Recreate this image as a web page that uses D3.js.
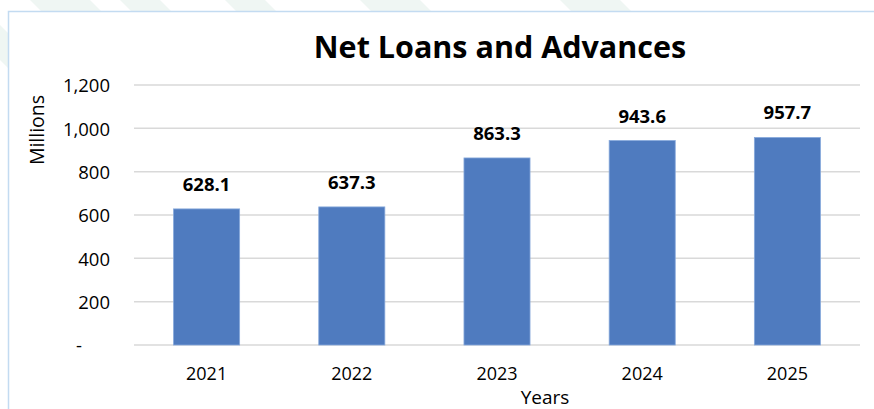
<!DOCTYPE html>
<html>
<head>
<meta charset="utf-8">
<script src="https://cdn.jsdelivr.net/npm/d3@7"></script>
<style>
  html, body { margin: 0; padding: 0; background: #ffffff; }
  svg { display: block; font-family: "Open Sans", "Noto Sans", sans-serif; }
</style>
</head>
<body>
<svg id="chart" width="874" height="409"></svg>
<script>
// Net loans and advances, in millions, by year
const years = ["2021", "2022", "2023", "2024", "2025"];
const netLoans = [628.1, 637.3, 863.3, 943.6, 957.7];
const yTicks = [0, 200, 400, 600, 800, 1000, 1200];
const yTickLabels = ["-", "200", "400", "600", "800", "1,000", "1,200"];

const W = 874, H = 409;
const svg = d3.select("#chart");

// Faint diagonal page stripes behind the chart frame
const stripes = svg.append("g").attr("fill", "#eff6f3");
[[30, 90], [120, 160], [225, 265], [360, 420], [560, 620]].forEach(([a, b]) => {
  stripes.append("polygon")
    .attr("points", `${a},0 ${b},0 ${b + 40},40 ${a + 40},40`);
});
stripes.append("polygon").attr("points", "0,25 0,60 40,100 40,65");

// Chart frame
svg.append("rect")
  .attr("x", 8.5).attr("y", 11.5)
  .attr("width", W).attr("height", H)
  .attr("fill", "#ffffff")
  .attr("stroke", "#c3dbf1").attr("stroke-width", 1.5);

const plot = { left: 134, right: 860, top: 85, bottom: 345 };

const x = d3.scaleBand()
  .domain(years)
  .range([plot.left, plot.right])
  .paddingInner(0.545)
  .paddingOuter(0.2725);

const y = d3.scaleLinear()
  .domain([0, 1200])
  .range([plot.bottom, plot.top]);

// Horizontal gridlines
svg.append("g")
  .selectAll("line")
  .data(yTicks)
  .join("line")
  .attr("x1", plot.left).attr("x2", plot.right)
  .attr("y1", d => y(d)).attr("y2", d => y(d))
  .attr("stroke", "#d9d9d9").attr("stroke-width", 1.5);

// Y axis labels
const yAxis = d3.axisLeft(y)
  .tickValues(yTicks)
  .tickSize(0)
  .tickPadding(0)
  .tickFormat((d, i) => yTickLabels[i]);
const yAxisG = svg.append("g")
  .attr("transform", `translate(${plot.left - 24},0)`)
  .call(yAxis);
yAxisG.select(".domain").remove();
yAxisG.selectAll("text")
  .attr("font-family", "'Open Sans', sans-serif")
  .attr("font-size", 18.5)
  .attr("fill", "#000")
  .attr("dy", "0.36em")
  .attr("dx", (d) => d === 0 ? -28 : 0);

// X axis labels
const xAxis = d3.axisBottom(x).tickSize(0).tickPadding(0);
const xAxisG = svg.append("g")
  .attr("transform", `translate(0,${plot.bottom})`)
  .call(xAxis);
xAxisG.select(".domain").remove();
xAxisG.selectAll("text")
  .attr("font-family", "'Open Sans', sans-serif")
  .attr("font-size", 18)
  .attr("fill", "#000")
  .attr("y", 35)
  .attr("dy", 0);

// Bars
svg.append("g")
  .selectAll("rect")
  .data(netLoans)
  .join("rect")
  .attr("x", (d, i) => x(years[i]))
  .attr("width", x.bandwidth())
  .attr("y", d => y(d))
  .attr("height", d => y(0) - y(d))
  .attr("fill", "#4f7bbf")
  .attr("stroke", "#86a8db").attr("stroke-width", 0.8);

// Value labels
svg.append("g")
  .selectAll("text")
  .data(netLoans)
  .join("text")
  .attr("x", (d, i) => x(years[i]) + x.bandwidth() / 2)
  .attr("y", d => y(d) - 18)
  .attr("text-anchor", "middle")
  .attr("font-size", 18.5)
  .attr("font-weight", "bold")
  .attr("fill", "#000")
  .text(d => d.toFixed(1));

// Title
svg.append("text")
  .attr("x", 500).attr("y", 58)
  .attr("text-anchor", "middle")
  .attr("font-size", 30.5)
  .attr("font-weight", "bold")
  .attr("fill", "#000")
  .text("Net Loans and Advances");

// Axis titles
svg.append("text")
  .attr("transform", "translate(44,130) rotate(-90)")
  .attr("text-anchor", "middle")
  .attr("font-size", 19.5)
  .attr("fill", "#000")
  .text("Millions");

svg.append("text")
  .attr("x", 545).attr("y", 404)
  .attr("text-anchor", "middle")
  .attr("font-size", 19)
  .attr("fill", "#000")
  .text("Years");
</script>
</body>
</html>
